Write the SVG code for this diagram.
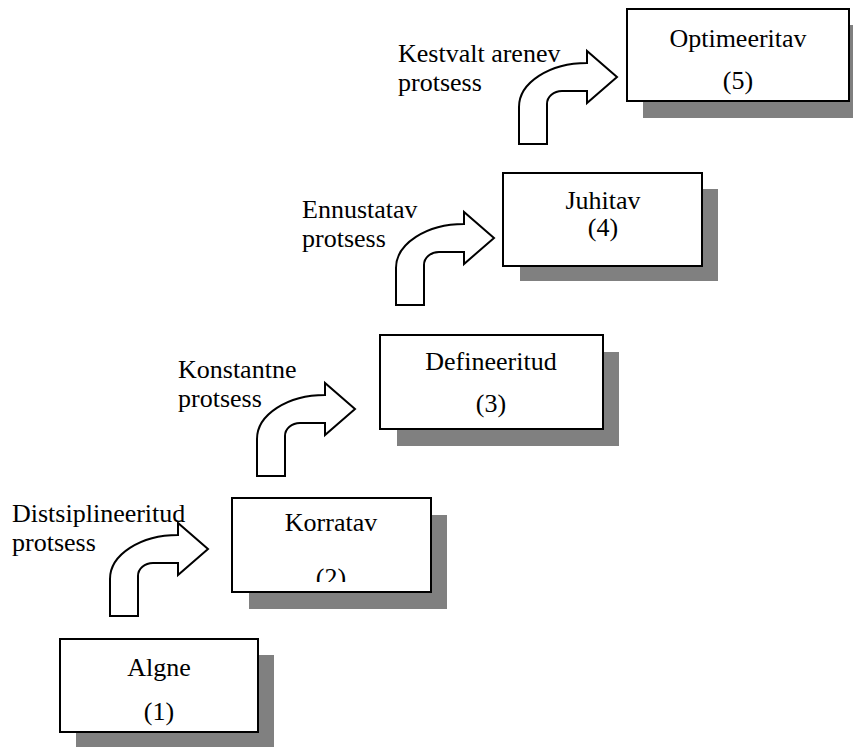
<svg xmlns="http://www.w3.org/2000/svg" width="853" height="747" viewBox="0 0 853 747">
<style>
.sh{fill:#808080;stroke:none}
.bx{fill:#fff;stroke:#000;stroke-width:2}
.ar{fill:#fff;stroke:#000;stroke-width:2;stroke-linejoin:miter}
text{font-family:"Liberation Serif","Times New Roman",serif;font-size:26px;fill:#000}
.c{text-anchor:middle}
</style>
<defs>
<path id="arrow" d="M0,0 L28,0 L28,-40 A15 13 0 0 1 43,-53 L68,-53 L68,-41 L98,-67 L68,-93 L68,-81 A68 44 0 0 0 0,-37 Z"/>
<clipPath id="clip2"><rect x="232" y="498" width="199" height="84"/></clipPath>
</defs>
<rect width="853" height="747" fill="#fff"/>
<g id="connectors">
<use href="#arrow" class="ar" transform="translate(110,616)"/>
<use href="#arrow" class="ar" transform="translate(257,476)"/>
<use href="#arrow" class="ar" transform="translate(396,305)"/>
<use href="#arrow" class="ar" transform="translate(519,144)"/>
</g>
<g id="label1"><text x="12" y="522">Distsiplineeritud</text><text x="12" y="551">protsess</text></g>
<g id="label2"><text x="178" y="378">Konstantne</text><text x="178" y="407">protsess</text></g>
<g id="label3"><text x="302" y="218">Ennustatav</text><text x="302" y="247">protsess</text></g>
<g id="label4"><text x="398" y="62">Kestvalt arenev</text><text x="398" y="91">protsess</text></g>
<g id="node1">
<rect class="sh" x="76" y="655" width="198" height="93"/>
<rect class="bx" x="60" y="639" width="198" height="93"/>
<text class="c" x="159" y="676">Algne</text><text class="c" x="159" y="720">(1)</text>
</g>
<g id="node2">
<rect class="sh" x="249" y="515" width="198" height="94"/>
<rect class="bx" x="232" y="498" width="199" height="94"/>
<text class="c" x="331" y="531">Korratav</text>
<text class="c" x="331" y="586" clip-path="url(#clip2)">(2)</text>
</g>
<g id="node3">
<rect class="sh" x="397" y="352" width="222" height="94"/>
<rect class="bx" x="380" y="335" width="223" height="94"/>
<text class="c" x="491" y="370">Defineeritud</text><text class="c" x="491" y="412">(3)</text>
</g>
<g id="node4">
<rect class="sh" x="520" y="189" width="198" height="92"/>
<rect class="bx" x="503" y="173" width="199" height="93"/>
<text class="c" x="603" y="209">Juhitav</text><text class="c" x="603" y="236">(4)</text>
</g>
<g id="node5">
<rect class="sh" x="643" y="25" width="222" height="93"/>
<rect class="bx" x="627" y="9" width="222" height="92"/>
<text class="c" x="738" y="47">Optimeeritav</text><text class="c" x="738" y="89">(5)</text>
</g>
</svg>
